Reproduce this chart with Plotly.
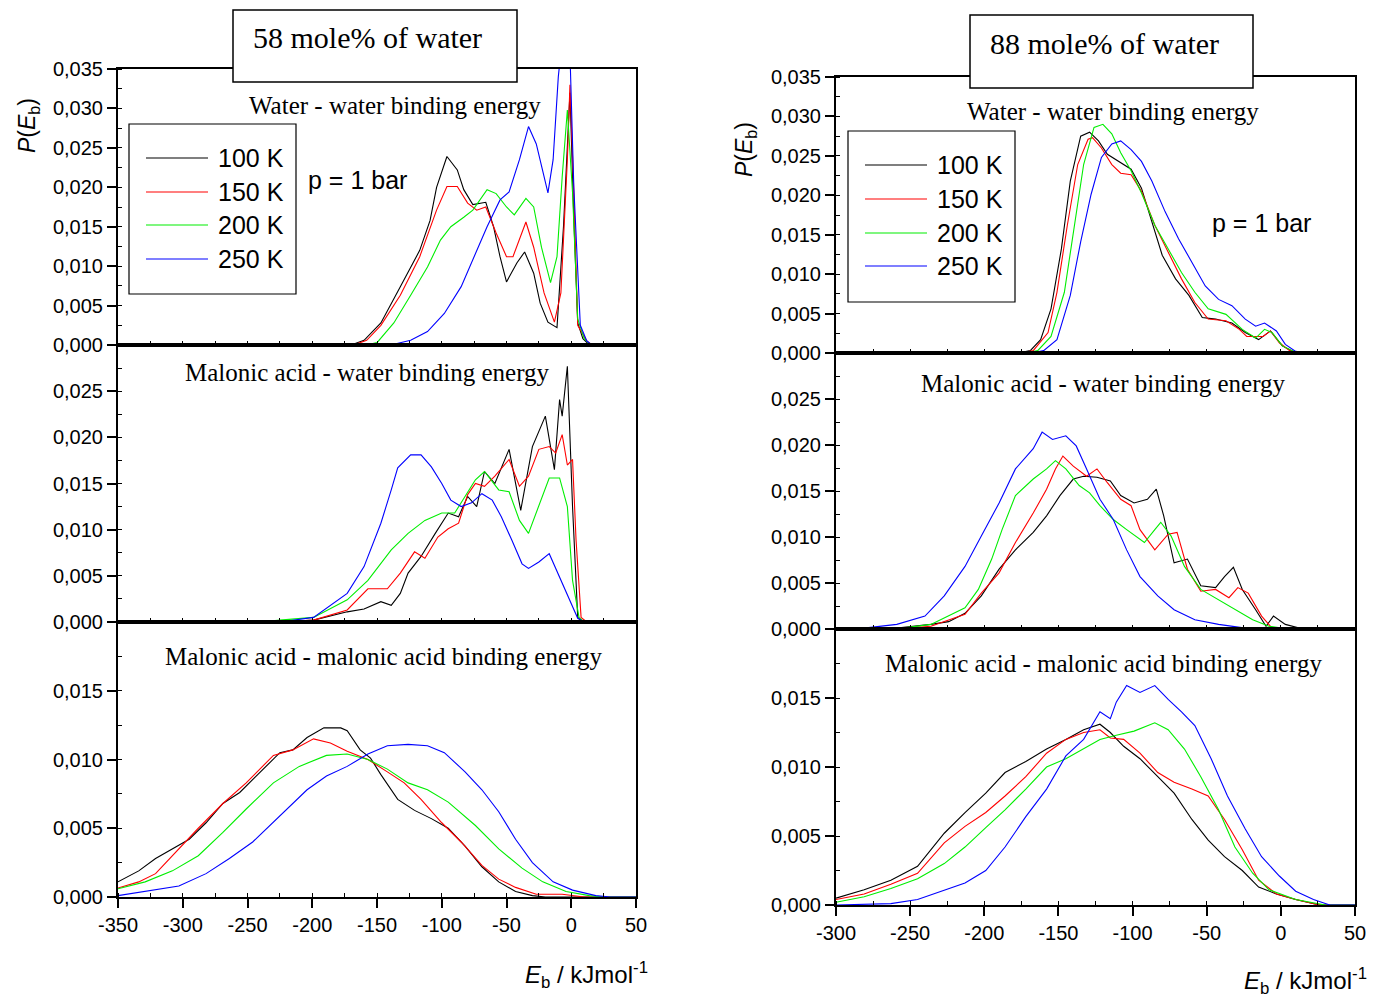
import plotly.graph_objects as go

# ---------------- data (E_b in kJ/mol, P(E_b)) ----------------
temps = ["100 K", "150 K", "200 K", "250 K"]
colors = ["#000000", "#ff0000", "#00ee00", "#0000ff"]

# 58 mole% water : water-water
L1_x_100 = [-350, -170, -160, -147, -132, -124, -117, -109, -104, -96, -88, -83, -76, -66, -60, -55, -50, -42, -36, -29, -24, -18, -11, -6, -3, -1, 2, 5, 9, 14, 50]
L1_y_100 = [0, 0, 0.0006, 0.0028, 0.0074, 0.0099, 0.012, 0.0158, 0.020, 0.0239, 0.0222, 0.0197, 0.0178, 0.0181, 0.015, 0.0112, 0.008, 0.0104, 0.0118, 0.0091, 0.0053, 0.0029, 0.0022, 0.015, 0.026, 0.032, 0.016, 0.0028, 0.0008, 0, 0]
L1_x_150 = [-350, -168, -158, -147, -132, -117, -104, -96, -88, -80, -73, -66, -58, -50, -45, -40, -35, -29, -21, -13, -8, -3, -1, 2, 5, 12, 16, 50]
L1_y_150 = [0, 0, 0.0006, 0.0025, 0.0063, 0.0112, 0.0171, 0.0201, 0.0201, 0.018, 0.0171, 0.0175, 0.0142, 0.0112, 0.0112, 0.0135, 0.0156, 0.0124, 0.0066, 0.0029, 0.0066, 0.0235, 0.033, 0.0193, 0.0025, 0.0005, 0, 0]
L1_x_200 = [-350, -158, -150, -137, -124, -111, -101, -93, -83, -76, -65, -58, -50, -44, -35, -29, -23, -16, -11, -7, -3, 1, 5, 10, 15, 50]
L1_y_200 = [0, 0, 0.0003, 0.0028, 0.0063, 0.0099, 0.0133, 0.015, 0.0162, 0.0171, 0.0197, 0.0192, 0.0175, 0.0165, 0.0186, 0.0175, 0.0124, 0.0079, 0.0112, 0.0213, 0.0298, 0.0193, 0.0033, 0.0008, 0, 0]
L1_x_250 = [-350, -145, -137, -124, -111, -98, -85, -75, -65, -55, -48, -40, -33, -27, -21, -18, -14, -10, -5, -1, 2, 7, 12, 16, 50]
L1_y_250 = [0, 0, 0.0001, 0.0006, 0.0017, 0.004, 0.0074, 0.0112, 0.015, 0.0184, 0.0194, 0.0235, 0.0277, 0.0255, 0.0213, 0.0193, 0.0235, 0.034, 0.042, 0.037, 0.02, 0.0025, 0.0005, 0, 0]

# 58 mole% water : malonic acid-water
L2_x_100 = [-350, -225, -199, -173, -160, -147, -139, -132, -126, -116, -105, -95, -87, -80, -73, -67, -59, -48, -39, -30, -20, -13, -9, -7, -3, 1, 5, 9, 50]
L2_y_100 = [0, 0, 0.0002, 0.0011, 0.0014, 0.0022, 0.0018, 0.0031, 0.0053, 0.0071, 0.0096, 0.0118, 0.0114, 0.0136, 0.0125, 0.0163, 0.015, 0.0187, 0.0121, 0.019, 0.0223, 0.0165, 0.0241, 0.0223, 0.0277, 0.0125, 0.0005, 0, 0]
L2_x_150 = [-350, -225, -199, -173, -157, -142, -132, -121, -113, -103, -95, -87, -80, -74, -67, -59, -48, -40, -33, -25, -17, -12, -7, -3, 1, 3.7, 7.6, 12, 50]
L2_y_150 = [0, 0, 0.0002, 0.0013, 0.0036, 0.0036, 0.0053, 0.0076, 0.0069, 0.0092, 0.0101, 0.0107, 0.0138, 0.015, 0.0147, 0.0158, 0.0176, 0.0147, 0.0158, 0.0187, 0.019, 0.0183, 0.0203, 0.017, 0.0176, 0.0089, 0.0005, 0, 0]
L2_x_200 = [-350, -240, -225, -199, -173, -157, -139, -126, -113, -100, -90, -82, -74, -67, -56, -48, -40, -33, -25, -17, -9, -3, 1, 6, 10, 50]
L2_y_200 = [0, 0, 0.0002, 0.0005, 0.0024, 0.0045, 0.0078, 0.0096, 0.011, 0.0118, 0.0118, 0.0136, 0.0154, 0.0163, 0.0143, 0.0141, 0.011, 0.0096, 0.0125, 0.0156, 0.0156, 0.0125, 0.0045, 0.0005, 0, 0]
L2_x_250 = [-350, -225, -199, -173, -160, -147, -139, -134, -124, -116, -108, -100, -93, -85, -77, -69, -61, -54, -46, -38, -33, -25, -17, -9, -1.5, 5, 10, 50]
L2_y_250 = [0, 0, 0.0005, 0.0031, 0.006, 0.0107, 0.0143, 0.0167, 0.0181, 0.0181, 0.0168, 0.015, 0.0132, 0.0125, 0.0129, 0.0139, 0.0132, 0.0114, 0.0089, 0.0063, 0.0058, 0.0065, 0.0074, 0.0049, 0.0024, 0.0004, 0, 0]

# 58 mole% water : malonic acid-malonic acid
L3_x_100 = [-350, -334, -321, -308, -295, -282, -269, -256, -243, -225, -215, -204, -191, -178, -173, -163, -155, -147, -134, -121, -108, -95, -82, -69, -56, -43, -30, -20, 50]
L3_y_100 = [0.0011, 0.0019, 0.0028, 0.0035, 0.0042, 0.0054, 0.0068, 0.0076, 0.0088, 0.0105, 0.0107, 0.0116, 0.0123, 0.0123, 0.0121, 0.0107, 0.0101, 0.0089, 0.0071, 0.0063, 0.0057, 0.005, 0.0037, 0.0022, 0.0011, 0.0004, 0.0001, 0, 0]
L3_x_150 = [-350, -334, -321, -303, -288, -269, -251, -230, -215, -199, -186, -173, -157, -142, -129, -116, -100, -85, -69, -56, -43, -27, -7, 10, 50]
L3_y_150 = [0.00065, 0.0011, 0.0017, 0.0035, 0.005, 0.0068, 0.0083, 0.0103, 0.0107, 0.0115, 0.0112, 0.0106, 0.01, 0.0091, 0.0083, 0.0071, 0.0054, 0.004, 0.0023, 0.0013, 0.0007, 0.0002, 0.0002, 0, 0]
L3_x_200 = [-350, -329, -308, -288, -269, -251, -230, -210, -189, -173, -157, -142, -126, -111, -95, -74, -56, -38, -22, -4, 14, 25, 50]
L3_y_200 = [0.0006, 0.0011, 0.0019, 0.003, 0.0047, 0.0064, 0.0083, 0.0095, 0.0103, 0.0104, 0.01, 0.0093, 0.0083, 0.0078, 0.0069, 0.0052, 0.0035, 0.0021, 0.0011, 0.0004, 0.0001, 0, 0]
L3_x_250 = [-350, -329, -303, -282, -264, -246, -225, -204, -189, -173, -157, -142, -126, -111, -98, -82, -69, -56, -43, -30, -14, 1, 19, 30, 50]
L3_y_250 = [0.0001, 0.0004, 0.0008, 0.0017, 0.0028, 0.004, 0.0059, 0.0078, 0.0088, 0.0095, 0.0104, 0.011, 0.0111, 0.011, 0.0105, 0.0091, 0.0078, 0.0062, 0.0042, 0.0025, 0.0011, 0.0005, 0.0001, 0, 0]

# 88 mole% water : water-water
R1_x_100 = [-300, -177, -169, -162, -155, -148, -142, -135, -129, -123, -117, -108, -101, -94, -87, -80, -71, -62, -53, -44, -33, -24, -15, -7, 1, 8, 15, 50]
R1_y_100 = [0, 0, 0.0003, 0.0017, 0.0056, 0.0132, 0.0218, 0.0275, 0.028, 0.0269, 0.0252, 0.0241, 0.0233, 0.0209, 0.0167, 0.0124, 0.0094, 0.0073, 0.0045, 0.0043, 0.0038, 0.0026, 0.0017, 0.0028, 0.0009, 0.0002, 0, 0]
R1_x_150 = [-300, -175, -167, -157, -151, -144, -137, -130, -127, -121, -114, -108, -101, -94, -85, -76, -67, -58, -49, -37, -28, -23, -12, -7, -1, 6, 12, 50]
R1_y_150 = [0, 0, 0.0003, 0.0026, 0.0077, 0.0162, 0.0239, 0.0271, 0.0273, 0.026, 0.0239, 0.0228, 0.0226, 0.0205, 0.0162, 0.0128, 0.0094, 0.0064, 0.0043, 0.0041, 0.003, 0.0021, 0.0021, 0.0028, 0.0013, 0.0003, 0, 0]
R1_x_200 = [-300, -172, -164, -155, -146, -139, -133, -126, -120, -114, -108, -101, -94, -85, -76, -67, -58, -49, -37, -26, -17, -11, -6, 1, 10, 15, 50]
R1_y_200 = [0, 0, 0.0003, 0.0021, 0.0077, 0.0162, 0.0239, 0.0286, 0.029, 0.0278, 0.0254, 0.0231, 0.0203, 0.0162, 0.0132, 0.0102, 0.0077, 0.0056, 0.0049, 0.003, 0.0019, 0.003, 0.0026, 0.0009, 0.0001, 0, 0]
R1_x_250 = [-300, -168, -160, -151, -142, -135, -128, -121, -114, -108, -101, -94, -87, -78, -69, -60, -51, -42, -33, -24, -17, -11, -3, 3, 10, 18, 50]
R1_y_250 = [0, 0, 0.0003, 0.0017, 0.0073, 0.0141, 0.0201, 0.0248, 0.0265, 0.0269, 0.0258, 0.0243, 0.0218, 0.0179, 0.0145, 0.0115, 0.0085, 0.0068, 0.006, 0.0043, 0.0034, 0.0038, 0.0028, 0.0011, 0.0002, 0, 0]

# 88 mole% water : malonic acid-water
R2_x_100 = [-300, -281, -259, -236, -224, -213, -202, -190, -179, -167, -158, -149, -140, -133, -124, -115, -108, -99, -90, -84, -79, -72, -63, -54, -44, -38, -32, -26, -17, -10, -5, 3, 15, 50]
R2_y_100 = [0, 0.0001, 0.0001, 0.0005, 0.0008, 0.0017, 0.0036, 0.0065, 0.0086, 0.0105, 0.0123, 0.0145, 0.0163, 0.0166, 0.0165, 0.0161, 0.0145, 0.0137, 0.0141, 0.0152, 0.0123, 0.0072, 0.0076, 0.0047, 0.0045, 0.0057, 0.0067, 0.0043, 0.0021, 0.0003, 0.0014, 0.0005, 0, 0]
R2_x_150 = [-300, -260, -236, -213, -202, -190, -179, -167, -158, -152, -147, -140, -131, -124, -117, -108, -101, -95, -85, -76, -70, -63, -54, -44, -35, -29, -22, -13, -6, 5, 50]
R2_y_150 = [0, 0, 0.0003, 0.0016, 0.0039, 0.0061, 0.0094, 0.0126, 0.0152, 0.0174, 0.0188, 0.0177, 0.0166, 0.0174, 0.0159, 0.0141, 0.0134, 0.0108, 0.0086, 0.0103, 0.0105, 0.0065, 0.0041, 0.0043, 0.0034, 0.0045, 0.0039, 0.0014, 0.0001, 0, 0]
R2_x_200 = [-300, -260, -236, -213, -204, -195, -188, -179, -167, -158, -152, -145, -136, -129, -122, -113, -104, -92, -85, -81, -74, -65, -54, -42, -31, -19, -8, 5, 50]
R2_y_200 = [0, 0, 0.0005, 0.0023, 0.0043, 0.0076, 0.0108, 0.0145, 0.0163, 0.0174, 0.0183, 0.0174, 0.0156, 0.0148, 0.0134, 0.0119, 0.0108, 0.0094, 0.0108, 0.0116, 0.0101, 0.0068, 0.0043, 0.0032, 0.0021, 0.001, 0.0003, 0, 0]
R2_x_250 = [-300, -281, -259, -240, -227, -213, -202, -190, -179, -167, -161, -154, -145, -138, -131, -122, -113, -104, -95, -83, -72, -58, -42, -24, -10, 50]
R2_y_250 = [0, 0.0001, 0.0005, 0.0014, 0.0036, 0.0068, 0.0101, 0.0137, 0.0174, 0.0196, 0.0214, 0.0206, 0.021, 0.0199, 0.0174, 0.0141, 0.0119, 0.0086, 0.0057, 0.0036, 0.0021, 0.001, 0.0005, 0.0001, 0, 0]

# 88 mole% water : malonic acid-malonic acid
R3_x_100 = [-300, -281, -263, -245, -227, -213, -199, -186, -172, -158, -145, -133, -122, -115, -106, -95, -83, -72, -60, -49, -38, -26, -15, -3, 10, 26, 50]
R3_y_100 = [0.0005, 0.0011, 0.0018, 0.0028, 0.0052, 0.0067, 0.0081, 0.0096, 0.0104, 0.0113, 0.012, 0.0127, 0.0131, 0.0125, 0.0115, 0.0106, 0.0093, 0.0081, 0.0062, 0.0047, 0.0035, 0.0025, 0.0013, 0.0008, 0.0004, 0, 0]
R3_x_150 = [-300, -281, -263, -245, -227, -213, -199, -186, -172, -158, -145, -133, -122, -115, -106, -95, -83, -72, -60, -49, -38, -26, -15, -3, 10, 26, 50]
R3_y_150 = [0.0004, 0.0008, 0.0015, 0.0023, 0.0045, 0.0057, 0.0067, 0.0079, 0.0093, 0.011, 0.012, 0.0125, 0.0127, 0.0121, 0.012, 0.011, 0.0096, 0.0089, 0.0084, 0.0079, 0.0062, 0.004, 0.0018, 0.0008, 0.0004, 0, 0]
R3_x_200 = [-300, -281, -263, -245, -227, -213, -199, -186, -172, -158, -145, -133, -122, -111, -99, -85, -76, -65, -54, -42, -31, -19, -8, 10, 30, 50]
R3_y_200 = [0.0002, 0.0006, 0.0012, 0.0019, 0.003, 0.0042, 0.0056, 0.0069, 0.0084, 0.01, 0.0106, 0.0113, 0.012, 0.0123, 0.0126, 0.0132, 0.0127, 0.0113, 0.0093, 0.0069, 0.0042, 0.0023, 0.0011, 0.0004, 0, 0]
R3_x_250 = [-300, -263, -245, -227, -213, -199, -186, -172, -158, -145, -133, -122, -115, -111, -104, -95, -85, -76, -67, -58, -47, -36, -24, -13, -1, 10, 22, 33, 50]
R3_y_250 = [0, 0.0001, 0.0004, 0.0011, 0.0016, 0.0025, 0.0042, 0.0064, 0.0084, 0.0108, 0.012, 0.014, 0.0135, 0.0147, 0.0159, 0.0154, 0.0159, 0.0149, 0.014, 0.013, 0.0106, 0.0079, 0.0055, 0.0035, 0.0021, 0.001, 0.0004, 0, 0]

panel_titles = ["Water - water binding energy",
                "Malonic acid - water binding energy",
                "Malonic acid - malonic acid binding energy"]
headers = ["58 mole% of water", "88 mole% of water"]
pressure = "p = 1 bar"
ytick_sets = [[0, 0.005, 0.01, 0.015, 0.02, 0.025, 0.03, 0.035],
              [0, 0.005, 0.01, 0.015, 0.02, 0.025],
              [0, 0.005, 0.01, 0.015]]
yranges = [[0, 0.035], [0, 0.030], [0, 0.020]]
xt_left = [-350, -300, -250, -200, -150, -100, -50, 0, 50]
xt_right = [-300, -250, -200, -150, -100, -50, 0, 50]

series = {
    "L1": [(L1_x_100, L1_y_100), (L1_x_150, L1_y_150), (L1_x_200, L1_y_200), (L1_x_250, L1_y_250)],
    "L2": [(L2_x_100, L2_y_100), (L2_x_150, L2_y_150), (L2_x_200, L2_y_200), (L2_x_250, L2_y_250)],
    "L3": [(L3_x_100, L3_y_100), (L3_x_150, L3_y_150), (L3_x_200, L3_y_200), (L3_x_250, L3_y_250)],
    "R1": [(R1_x_100, R1_y_100), (R1_x_150, R1_y_150), (R1_x_200, R1_y_200), (R1_x_250, R1_y_250)],
    "R2": [(R2_x_100, R2_y_100), (R2_x_150, R2_y_150), (R2_x_200, R2_y_200), (R2_x_250, R2_y_250)],
    "R3": [(R3_x_100, R3_y_100), (R3_x_150, R3_y_150), (R3_x_200, R3_y_200), (R3_x_250, R3_y_250)],
}

# ---------------- layout helpers ----------------
# the page body has an 8 px margin, so the figure is 16 px smaller than the
# window and reference pixel positions are shifted by 8 px
OFF = 8
W, H = 1377 - 2 * OFF, 1007 - 2 * OFF
def px(x):
    return (x - OFF) / W
def py(y):
    return 1 - (y - OFF) / H

SANS = "Liberation Sans, Arial, sans-serif"
SERIF = "Liberation Serif, Times New Roman, serif"

# panel geometry (reference pixels): x0, x1, ytop, ybottom
panels = {
    "L1": (118, 636, 69, 345), "L2": (118, 636, 345, 622), "L3": (118, 636, 622, 897),
    "R1": (836, 1355, 77, 353), "R2": (836, 1355, 353, 629), "R3": (836, 1355, 629, 905),
}
order = ["L1", "L2", "L3", "R1", "R2", "R3"]

fig = go.Figure()
layout_axes = {}
for i, key in enumerate(order):
    n = i + 1
    xa = "x" if n == 1 else f"x{n}"
    ya = "y" if n == 1 else f"y{n}"
    x0, x1, yt, yb = panels[key]
    row = int(key[1]) - 1
    left = key[0] == "L"
    xr = [-350, 50] if left else [-300, 50]
    for (xs, ys), col, name in zip(series[key], colors, temps):
        fig.add_trace(go.Scatter(x=xs, y=ys, mode="lines", name=name,
                                 line=dict(color=col, width=1.1),
                                 xaxis=xa, yaxis=ya, showlegend=False,
                                 hoverinfo="skip"))
    bottom = row == 2
    xaxis = dict(domain=[px(x0), px(x1)], range=xr, anchor=ya, automargin=False,
                 showline=True, linecolor="black", linewidth=2, mirror=True,
                 showgrid=False, zeroline=False,
                 tickfont=dict(family=SANS, size=20, color="black"))
    if bottom:
        xt = xt_left if left else xt_right
        xaxis.update(tickmode="array", tickvals=xt, ticktext=[str(v) for v in xt],
                     ticks="outside", ticklen=9, tickwidth=1.5, tickcolor="black",
                     showticklabels=True,
                     minor=dict(tickmode="linear", tick0=0, dtick=25, ticks="inside",
                                ticklen=4, tickwidth=1, tickcolor="black"))
    else:
        xaxis.update(tickmode="linear", tick0=0, dtick=25, ticks="inside", ticklen=4,
                     tickwidth=1, tickcolor="black", showticklabels=False)
    yaxis = dict(domain=[py(yb), py(yt)], range=yranges[row], anchor=xa, automargin=False,
                 showline=True, linecolor="black", linewidth=2, mirror=True,
                 showgrid=False, zeroline=False,
                 tickmode="array", tickvals=ytick_sets[row], tickformat=".3f",
                 ticks="outside", ticklen=9, tickwidth=1.5, tickcolor="black",
                 tickfont=dict(family=SANS, size=20, color="black"),
                 minor=dict(tickmode="linear", tick0=0, dtick=0.0025, ticks="inside",
                            ticklen=4, tickwidth=1, tickcolor="black"))
    layout_axes["xaxis" if n == 1 else f"xaxis{n}"] = xaxis
    layout_axes["yaxis" if n == 1 else f"yaxis{n}"] = yaxis

fig.update_layout(**layout_axes)

shapes = []
annotations = []

def text(x, y, s, size, family, xanchor="center", yanchor="middle", angle=0):
    annotations.append(dict(xref="paper", yref="paper", x=px(x), y=py(y), text=s,
                            showarrow=False, xanchor=xanchor, yanchor=yanchor,
                            textangle=angle,
                            font=dict(family=family, size=size, color="black")))

# header boxes
for (bx0, bx1, by0, by1, tx, ty), label in zip([(233, 517, 10, 82, 367, 38), (970, 1253, 15, 88, 1104, 44)], headers):
    shapes.append(dict(type="rect", xref="paper", yref="paper", x0=px(bx0), x1=px(bx1),
                       y0=py(by1), y1=py(by0), fillcolor="white",
                       line=dict(color="black", width=1.5), layer="above"))
    text(tx, ty, label, 30, SERIF)

# panel titles
for (cx, cy), t in zip([(395, 105), (368, 372), (383, 656)], panel_titles):
    text(cx, cy, t, 25, SERIF)
for (cx, cy), t in zip([(1113, 112), (1103, 383), (1103, 663)], panel_titles):
    text(cx, cy, t, 25, SERIF)

# legends
for (lx0, lx1, ly0, ly1, sx0, sx1, tx, ys) in [(129, 296, 124, 294, 146, 208, 216, [158, 192, 225, 259]),
                                              (848, 1015, 131, 302, 865, 927, 935, [165, 199, 233, 266])]:
    shapes.append(dict(type="rect", xref="paper", yref="paper", x0=px(lx0), x1=px(lx1),
                       y0=py(ly1), y1=py(ly0), fillcolor="white",
                       line=dict(color="black", width=1.2), layer="above"))
    for yy, col, name in zip(ys, colors, temps):
        shapes.append(dict(type="line", xref="paper", yref="paper", x0=px(sx0), x1=px(sx1),
                           y0=py(yy), y1=py(yy), line=dict(color=col, width=1.1), layer="above"))
        text(tx, yy, name, 25, SANS, xanchor="left")

# pressure labels
text(357, 180, pressure, 25, SANS)
text(1261, 223, pressure, 25, SANS)

# axis titles
ylab = "<i>P</i>(<i>E</i><sub>b</sub>)"
text(28, 126, ylab, 23, SANS, angle=-90)
text(746, 150, ylab, 23, SANS, angle=-90)
xlab = "<i>E</i><sub>b</sub> / kJmol<sup>-1</sup>"
text(586, 975, xlab, 24, SANS)
text(1305, 981, xlab, 24, SANS)

fig.update_layout(width=W, height=H, margin=dict(l=0, r=0, t=0, b=0, autoexpand=False),
                  paper_bgcolor="white", plot_bgcolor="white",
                  separators=",.", shapes=shapes, annotations=annotations,
                  showlegend=False)

fig.write_html("out.html")
